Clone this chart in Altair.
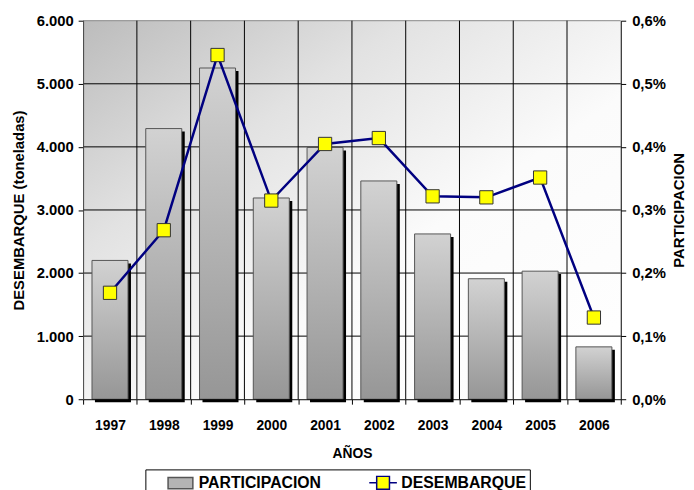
import altair as alt
import pandas as pd

# ---- data ----
anios = ['1997', '1998', '1999', '2000', '2001', '2002', '2003', '2004', '2005', '2006']
participacion = [0.220, 0.429, 0.525, 0.319, 0.399, 0.346, 0.262, 0.191, 0.203, 0.083]  # % (right axis)
desembarque = [1687, 2679, 5456, 3149, 4046, 4140, 3216, 3200, 3514, 1295]  # toneladas (left axis)
ticks_izq = [0, 1000, 2000, 3000, 4000, 5000, 6000]
ticks_der = [0.0, 0.1, 0.2, 0.3, 0.4, 0.5, 0.6]
series = ['PARTICIPACION', 'DESEMBARQUE']

W, H = 544, 383
FONT = 'Liberation Sans'

df = pd.DataFrame({'anio': anios, 'participacion': participacion, 'desembarque': desembarque})
df_grid_h = pd.DataFrame({'v': ticks_izq[1:]})
df_grid_v = pd.DataFrame({'anio': anios[1:]})
df_leg = pd.DataFrame({'serie': series, 'anio': anios[:2], 'v': [None, None]})

xscale = alt.Scale(domain=anios, paddingInner=0, paddingOuter=0)
xaxis = alt.Axis(title='AÑOS', tickBand='extent', labelAngle=0, grid=False,
                 domainColor='black', tickColor='black', tickSize=5,
                 labelFont=FONT, labelFontSize=14, labelFontWeight='bold', labelColor='black',
                 labelPadding=15, titleFont=FONT, titleFontSize=14, titleFontWeight='bold',
                 titleColor='black', titlePadding=14, zindex=1)
X = alt.X('anio:O', scale=xscale, axis=xaxis)

yl_scale = alt.Scale(domain=[0, 6000], nice=False, zero=True)
yr_scale = alt.Scale(domain=[0, 0.6], nice=False, zero=True)

left_axis = alt.Axis(orient='left', values=ticks_izq, grid=False,
                     labelExpr="replace(format(datum.value, ','), ',', '.')",
                     title='DESEMBARQUE (toneladas)', domainColor='#404040', tickColor='black',
                     tickSize=5, labelFont=FONT, labelFontSize=15, labelFontWeight='bold',
                     labelColor='black', labelPadding=5, titleFont=FONT, titleFontSize=15,
                     titleFontWeight='bold', titleColor='black', titlePadding=10, zindex=1)
right_axis = alt.Axis(orient='right', values=ticks_der, grid=False,
                      labelExpr="replace(format(datum.value, '.1f'), '.', ',') + '%'",
                      title='PARTICIPACION', titleAngle=270, titleAlign='center',
                      titleBaseline='top', titleAnchor='middle',
                      domainColor='black', tickColor='black',
                      tickSize=5, labelFont=FONT, labelFontSize=15, labelFontWeight='bold',
                      labelColor='black', labelPadding=6, titleFont=FONT, titleFontSize=15,
                      titleFontWeight='bold', titleColor='black', titlePadding=6, zindex=1)

bg_grad = alt.Gradient(gradient='linear', x1=0, y1=0, x2=1, y2=1,
                       stops=[alt.GradientStop(color='#bcbcbc', offset=0),
                              alt.GradientStop(color='#e2e2e2', offset=0.3),
                              alt.GradientStop(color='#fbfbfb', offset=0.6),
                              alt.GradientStop(color='#ffffff', offset=1)])
bar_grad = alt.Gradient(gradient='linear', x1=0, y1=0, x2=0, y2=1,
                        stops=[alt.GradientStop(color='#d2d2d2', offset=0),
                               alt.GradientStop(color='#969696', offset=1)])

background = alt.Chart(pd.DataFrame({'k': [0]})).mark_rect(fill=bg_grad).encode(
    x=alt.value(0), x2=alt.value(W), y=alt.value(0), y2=alt.value(H))

grid_h = alt.Chart(df_grid_h).mark_rule(strokeWidth=1).encode(
    y=alt.Y('v:Q', scale=yl_scale, axis=None),
    color=alt.condition('datum.v == 6000', alt.value('#888888'), alt.value('black')))

grid_v = alt.Chart(df_grid_v).mark_rule(color='black', strokeWidth=1).encode(
    x=alt.X('anio:O', scale=xscale, axis=xaxis, bandPosition=0))

shadow = alt.Chart(df).mark_bar(color='black', width={'band': 0.67}, xOffset=3, yOffset=3).encode(
    x=X, y=alt.Y('participacion:Q', scale=yr_scale, axis=None))

bars = alt.Chart(df).mark_bar(fill=bar_grad, stroke='#555555', strokeWidth=1,
                              width={'band': 0.67}).encode(
    x=X, y=alt.Y('participacion:Q', scale=yr_scale, axis=right_axis))

line = alt.Chart(df).mark_line(color='#000080', strokeWidth=2.5).encode(
    x=X, y=alt.Y('desembarque:Q', scale=yl_scale, axis=left_axis))

points = alt.Chart(df).mark_square(size=180, fill='#ffff00', stroke='#333333', strokeWidth=1,
                                   opacity=1, filled=True).encode(
    x=X, y=alt.Y('desembarque:Q', scale=yl_scale, axis=None))

rect_path = 'M-1.32,-0.6H1.32V0.6H-1.32Z'
linesq_path = 'M-1.47,0H-0.68M0.68,0H1.47M-0.68,-0.68H0.68V0.68H-0.68Z'
leg = alt.Legend(orient='none', legendX=63, legendY=454, direction='horizontal', columns=2,
                 title=None, strokeColor='black', fillColor='white', padding=3,
                 symbolSize=361, symbolStrokeWidth=1.5, symbolOffset=22, labelOffset=8,
                 columnPadding=30, labelFont=FONT, labelFontSize=16, labelFontWeight='bold',
                 labelColor='black')
legend_layer = alt.Chart(df_leg).mark_point(opacity=1, filled=True).encode(
    x=X,
    y=alt.Y('v:Q', scale=alt.Scale(domain=[0, 1]), axis=None),
    fill=alt.Fill('serie:N', scale=alt.Scale(domain=series, range=['#b4b4b4', '#ffff00']), legend=leg),
    stroke=alt.Stroke('serie:N', scale=alt.Scale(domain=series, range=['#555555', '#000080']), legend=leg),
    shape=alt.Shape('serie:N', scale=alt.Scale(domain=series, range=[rect_path, linesq_path]), legend=leg),
)

chart = alt.layer(background, grid_h, grid_v, shadow, bars, line, points, legend_layer).resolve_scale(
    y='independent'
).properties(
    width=W, height=H,
    autosize=alt.AutoSizeParams(type='none'),
    padding={'left': 76, 'top': 10, 'right': 66, 'bottom': 89},
    background='white',
).configure_view(strokeWidth=0)

chart.save('out.html', embed_options={'renderer': 'svg', 'actions': False})
